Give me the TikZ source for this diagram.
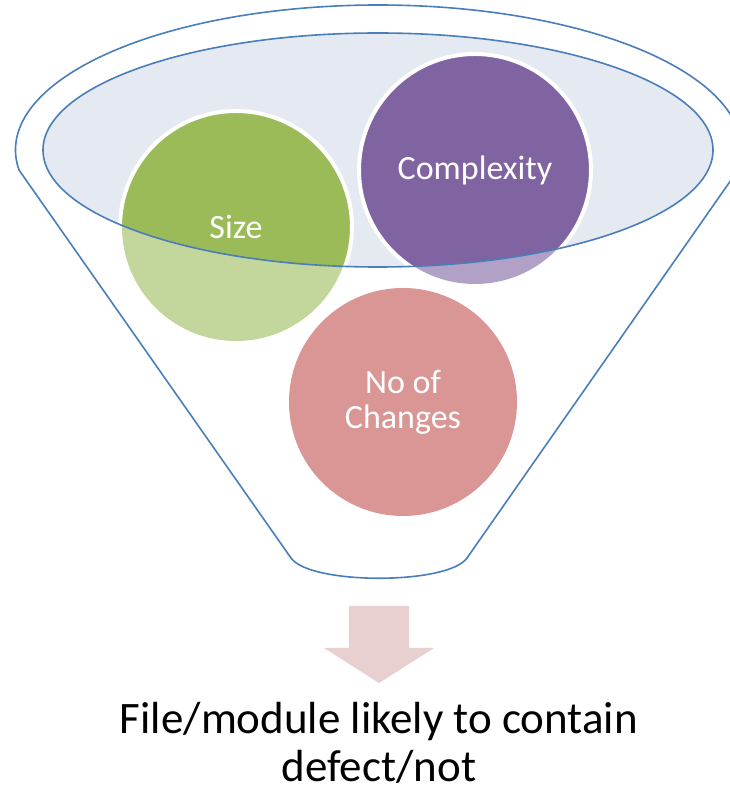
\documentclass[tikz,border=0pt]{standalone}
\usepackage{fontspec}
\setmainfont{Carlito}

\definecolor{funnelblue}{HTML}{4A7EBB}
\definecolor{rimfill}{HTML}{E4E9F2}
\definecolor{sizegreen}{HTML}{9BBB59}
\definecolor{sizelight}{HTML}{C3D69B}
\definecolor{cplxpurple}{HTML}{8064A2}
\definecolor{cplxlight}{HTML}{B2A1C7}
\definecolor{chgpink}{HTML}{D99694}
\definecolor{arrowpink}{HTML}{E8D0D1}

\begin{document}
\begin{tikzpicture}[x=1pt, y=1pt,
    rim/.style={draw=funnelblue, line width=1.6pt},
    ball/.style={circle, minimum size=228pt, inner sep=0pt, text=white, align=center,
      font=\fontsize{34}{35}\selectfont}]
    \useasboundingbox (0,0) rectangle (730,793);

    % funnel body
    \draw [rim, line join=round] (19,623) arc [start angle=187.93, end angle=-7.93, x radius=363, y radius=145]
        -- (467,235) .. controls (448,208) and (310,208) .. (291,235) -- cycle;

    % rim
    \fill [rimfill] (378,643) ellipse [x radius=335, y radius=117];

    % light parts, below the rim
    \fill [sizelight] (236,566) circle (114);
    \fill [cplxlight] (475,623) circle (114);
    \fill [chgpink] (403,391) circle (114);

    % strong parts, inside the rim
    \begin{scope}
        \clip (378,643) ellipse [x radius=335, y radius=117];
        \draw [white, line width=4pt, fill=sizegreen] (236,566) circle (116);
        \draw [white, line width=4pt, fill=cplxpurple] (475,623) circle (116);
    \end{scope}

    \draw [rim] (378,643) ellipse [x radius=335, y radius=117]; %Elipse

    \node [ball] (size) at (236,566) {Size};
    \node [ball] (complexity) at (475,623) {Complexity};
    \node [ball] (changes) at (403,391) {No of\\Changes};

    % arrow
    \fill [arrowpink] (349,187) -- (409,187) -- (409,145) -- (434,145) -- (379,110) -- (324,145) -- (349,145) -- cycle;

    \node [font=\fontsize{45}{48}\selectfont, align=center, inner sep=0pt] (result) at (379,50) {File/module likely to contain\\defect/not};

\end{tikzpicture}
\end{document}
